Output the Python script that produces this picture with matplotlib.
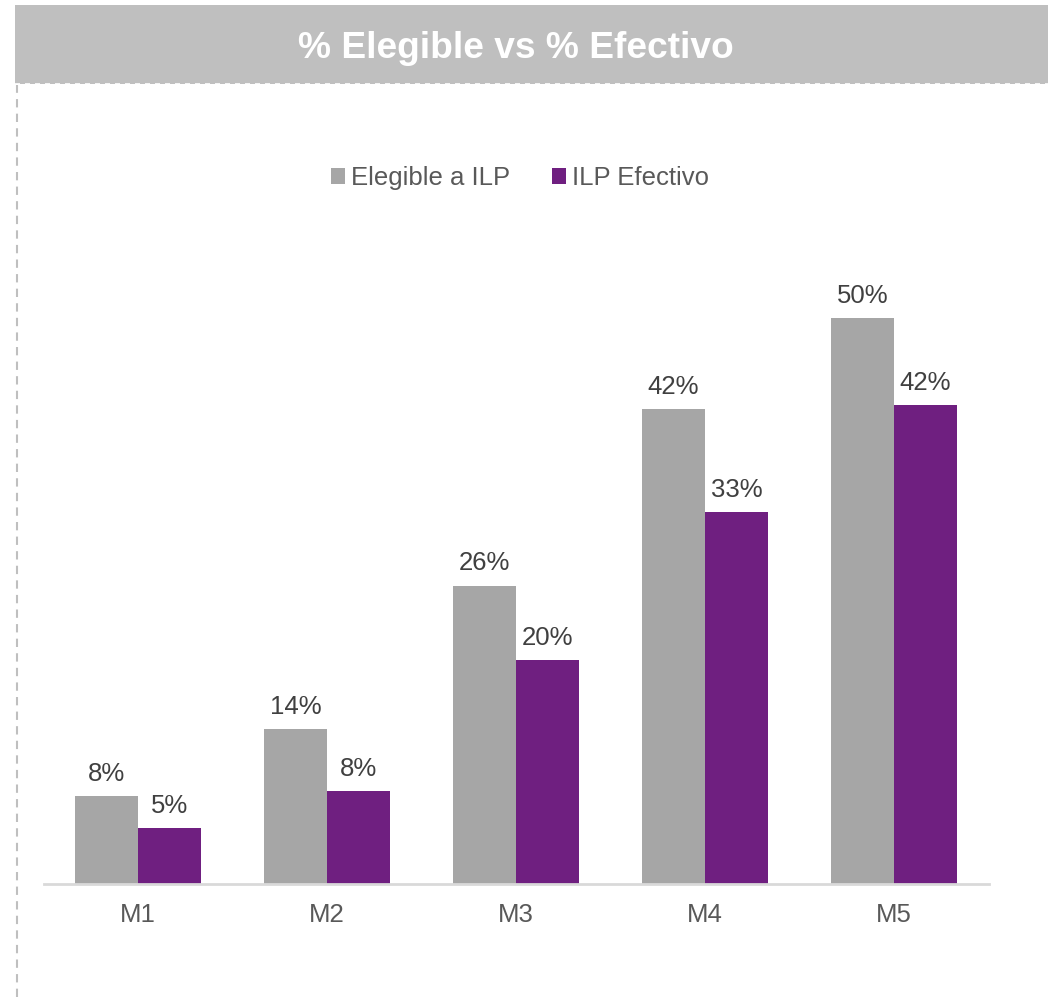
import matplotlib.pyplot as plt
from matplotlib.patches import Rectangle
from matplotlib.lines import Line2D
import numpy as np

plt.rcParams['font.family'] = ['Liberation Sans', 'DejaVu Sans']

categories = ['M1', 'M2', 'M3', 'M4', 'M5']
elegible = [7.8, 13.7, 26.4, 42.0, 50.1]
efectivo = [4.95, 8.2, 19.8, 32.9, 42.4]
series_names = ['Elegible a ILP', 'ILP Efectivo']
title = '% Elegible vs % Efectivo'

gray = '#a6a6a6'
purple = '#6f1f80'

W, H = 1048, 997
fig = plt.figure(figsize=(W / 100, H / 100), dpi=100)

# banner + dashed frame
fig.patches.append(Rectangle((15 / W, 1 - 84 / H), 1 - 15 / W, 79 / H,
                             transform=fig.transFigure, facecolor='#bfbfbf',
                             edgecolor='none', zorder=0))
fig.lines.append(Line2D([15 / W, 1], [1 - 84 / H, 1 - 84 / H], transform=fig.transFigure,
                        color='white', lw=1.2, ls=(0, (3, 3)), zorder=1))
fig.lines.append(Line2D([17 / W, 17 / W], [0, 1 - 85 / H], transform=fig.transFigure,
                        color='#bfbfbf', lw=1.5, ls=(0, (4, 3)), zorder=1))
fig.text(516 / W, 1 - 45 / H, title, ha='center', va='center_baseline', color='white',
         fontsize=26.7, fontweight='bold')

ax = fig.add_axes([43.5 / W, 113 / H, 945 / W, 678 / H])
x = np.arange(len(categories))
bw = 63 / 189
b1 = ax.bar(x - bw / 2, elegible, bw, color=gray, label=series_names[0])
b2 = ax.bar(x + bw / 2, efectivo, bw, color=purple, label=series_names[1])

for bars, vals in ((b1, elegible), (b2, efectivo)):
    for r, v in zip(bars, vals):
        ax.annotate(f'{round(v):.0f}%', (r.get_x() + r.get_width() / 2, v),
                    xytext=(0, 11), textcoords='offset points', ha='center', va='baseline',
                    fontsize=18.5, color='#404040')

ax.set_xlim(-0.5, len(categories) - 0.5)
ax.set_ylim(0, 60)
ax.set_xticks(x)
ax.set_xticklabels(categories, fontsize=18.5, color='#595959')
ax.tick_params(axis='x', length=0, pad=14)
ax.set_yticks([])
for s in ['top', 'right', 'left']:
    ax.spines[s].set_visible(False)
ax.spines['bottom'].set_color('#d9d9d9')
ax.spines['bottom'].set_linewidth(2)

leg = fig.legend(handles=[b1, b2], labels=series_names, loc='center',
                 bbox_to_anchor=(520 / W, 1 - 178 / H), ncol=2, frameon=False,
                 fontsize=18.5, handlelength=0.55, handleheight=0.55, handletextpad=0.25,
                 columnspacing=1.6)
for t in leg.get_texts():
    t.set_color('#595959')

fig.savefig('out.png', dpi=100)
